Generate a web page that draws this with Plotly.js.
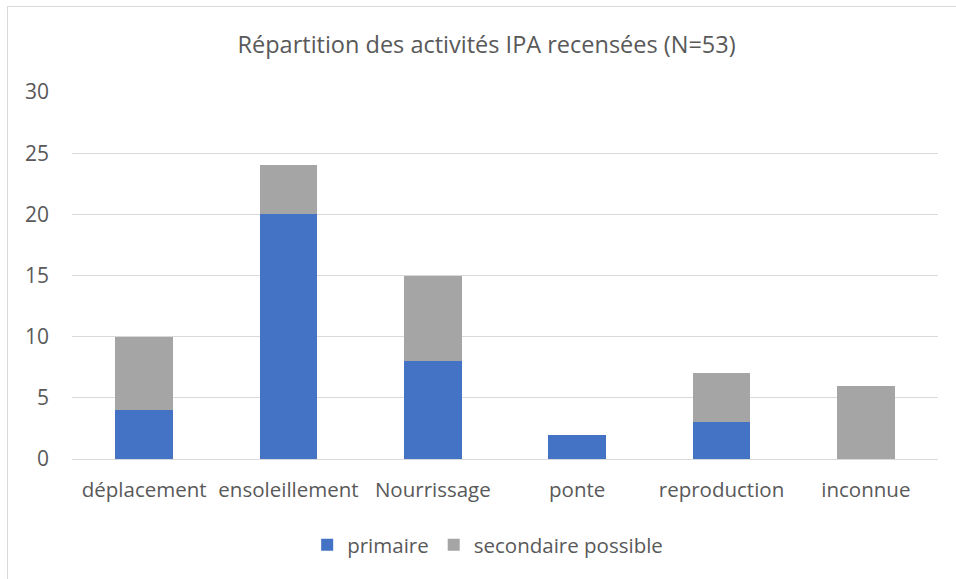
<!DOCTYPE html>
<html><head><meta charset="utf-8">
<script src="https://cdn.plot.ly/plotly-3.0.1.min.js"></script>
<style>
html,body{margin:0;padding:0;background:#fff;}
#wrap{position:relative;width:956px;height:579px;}
#frame{position:absolute;left:7px;top:6px;width:960px;height:600px;border-left:1px solid #d9d9d9;border-top:1px solid #d9d9d9;pointer-events:none;}
#chart{position:absolute;left:0;top:0;width:956px;height:579px;}
</style></head>
<body><div id="wrap"><div id="chart"></div><div id="frame"></div></div>
<script>
const categories = ["déplacement", "ensoleillement", "Nourrissage", "ponte", "reproduction", "inconnue"];
const primaire = [4, 20, 8, 2, 3, 0];
const secondaire = [6, 4, 7, 0, 4, 6];
const yTicks = [0, 5, 10, 15, 20, 25, 30];

const font = {family: "Open Sans, Noto Sans, sans-serif", color: "#595959"};
const data = [
  {type: "bar", name: "primaire", x: categories, y: primaire, marker: {color: "#4472c4"}, hoverinfo: "none"},
  {type: "bar", name: "secondaire possible", x: categories, y: secondaire, marker: {color: "#a5a5a5"}, hoverinfo: "none"}
];
const layout = {
  width: 956, height: 579,
  margin: {l: 72, r: 18, t: 92, b: 120},
  paper_bgcolor: "rgba(0,0,0,0)", plot_bgcolor: "#fff",
  barmode: "stack", bargap: 0.6,
  font: Object.assign({size: 20.5}, font),
  title: {text: "Répartition des activités IPA recensées (N=53)", font: Object.assign({size: 23.5}, font), x: 0.509, xref: "container", xanchor: "center", y: 0.922, yref: "container", yanchor: "middle"},
  xaxis: {type: "category", showgrid: false, showline: true, linecolor: "#d9d9d9", linewidth: 1, ticks: "", tickfont: Object.assign({size: 20.5}, font), ticklabelstandoff: 12, fixedrange: true},
  yaxis: {range: [0, 30], tickvals: yTicks, showgrid: true, gridcolor: "#d9d9d9", gridwidth: 1, zeroline: false, ticks: "", tickfont: Object.assign({size: 21}, font), ticklabelstandoff: 22, fixedrange: true},
  showlegend: true,
  legend: {orientation: "h", x: 0.48, xanchor: "center", y: -0.234, yanchor: "middle", font: Object.assign({size: 20.5}, font), traceorder: "normal", itemwidth: 20}
};
Plotly.newPlot("chart", data, layout, {staticPlot: true});
</script></body></html>
